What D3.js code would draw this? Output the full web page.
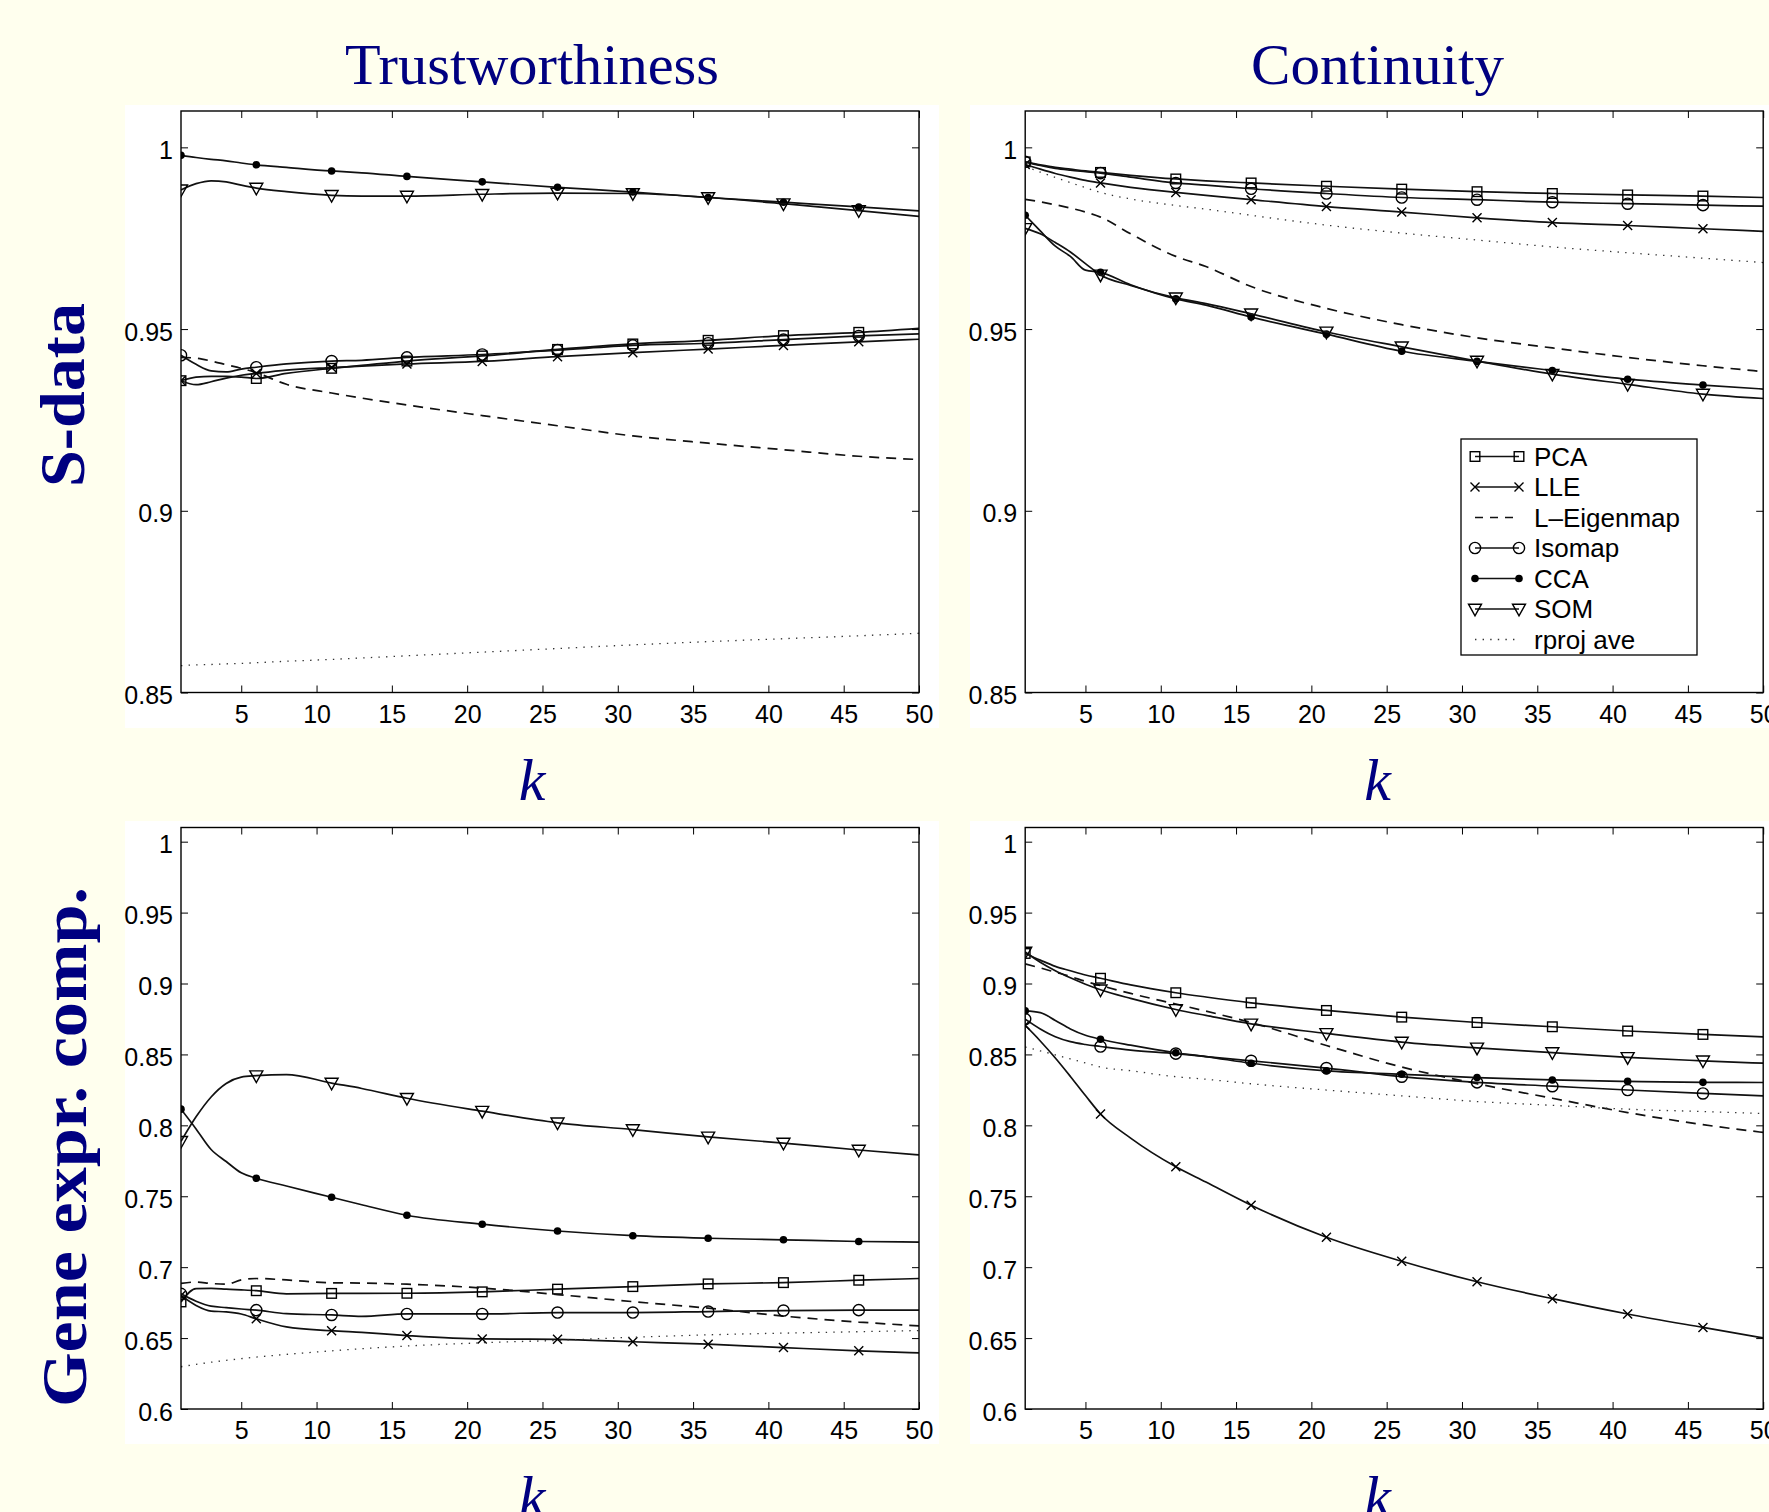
<!DOCTYPE html>
<html><head><meta charset="utf-8">
<script src="https://cdn.jsdelivr.net/npm/d3@7"></script>
<style>html,body{margin:0;padding:0;background:#FFFFEE;} svg{display:block}</style>
</head><body>
<svg id="chart" width="1769" height="1512"></svg>
<script>
// ---------------- DATA ----------------
const kGrid = [1,2,3,4,5,6,8,11,13,16,21,26,31,36,41,46,50];
const markerKs = [1,6,11,16,21,26,31,36,41,46];
const xTicks = [5,10,15,20,25,30,35,40,45,50];
const yTicksS = [0.85,0.9,0.95,1];
const yTickLabelsS = ["0.85","0.9","0.95","1"];
const yTicksG = [0.6,0.65,0.7,0.75,0.8,0.85,0.9,0.95,1];
const yTickLabelsG = ["0.6","0.65","0.7","0.75","0.8","0.85","0.9","0.95","1"];
const colTitles = ["Trustworthiness","Continuity"];
const rowTitles = ["S-data","Gene expr. comp."];
const methods = ["PCA","LLE","L\u2013Eigenmap","Isomap","CCA","SOM","rproj ave"];

// Trustworthiness, S-data
const trustS_PCA   = [.9358,.9368,.9370,.9370,.9368,.9364,.9378,.9392,.9400,.9412,.9426,.9444,.9459,.9469,.9482,.9491,.9502];
const trustS_LLE   = [.9358,.9347,.9355,.9365,.9373,.9378,.9387,.9394,.9398,.9404,.9411,.9424,.9435,.9445,.9455,.9465,.9472];
const trustS_LEig  = [.9422,.9420,.9412,.9402,.9392,.9380,.9348,.9324,.9310,.9291,.9262,.9234,.9206,.9186,.9168,.9150,.9141];
const trustS_Iso   = [.9428,.9403,.9385,.9382,.9390,.9395,.9404,.9412,.9414,.9422,.9430,.9442,.9455,.9461,.9471,.9481,.9487];
const trustS_CCA   = [.9978,.9972,.9967,.9963,.9957,.9952,.9945,.9935,.9930,.9920,.9905,.9890,.9877,.9862,.9849,.9836,.9825];
const trustS_SOM   = [.9883,.9900,.9908,.9905,.9896,.9888,.9878,.9868,.9866,.9866,.9871,.9874,.9873,.9862,.9845,.9826,.9810];
const trustS_rproj = [.8574,.8576,.8577,.8579,.8580,.8582,.8586,.8591,.8595,.8601,.8611,.8621,.8631,.8640,.8648,.8656,.8663];

// Continuity, S-data
const contS_PCA   = [.9960,.9952,.9945,.9940,.9935,.9931,.9923,.9913,.9908,.9902,.9893,.9885,.9878,.9873,.9869,.9866,.9862];
const contS_LLE   = [.9953,.9940,.9928,.9918,.9909,.9902,.9890,.9876,.9868,.9856,.9837,.9822,.9806,.9793,.9785,.9776,.9769];
const contS_LEig  = [.9857,.9850,.9842,.9833,.9822,.9808,.9762,.9700,.9672,.9617,.9557,.9512,.9476,.9448,.9422,.9399,.9383];
const contS_Iso   = [.9960,.9950,.9942,.9937,.9933,.9929,.9918,.9902,.9896,.9886,.9873,.9862,.9856,.9849,.9845,.9841,.9838];
const contS_CCA   = [.9813,.9770,.9728,.9700,.9662,.9656,.9622,.9583,.9566,.9533,.9486,.9439,.9411,.9386,.9362,.9346,.9335];
const contS_SOM   = [.9777,.9762,.9738,.9712,.9680,.9649,.9620,.9586,.9570,.9542,.9492,.9451,.9412,.9376,.9348,.9321,.9309];
const contS_rproj = [.9947,.9932,.9917,.9903,.9889,.9876,.9858,.9840,.9830,.9813,.9786,.9764,.9745,.9726,.9710,.9695,.9683];

// Trustworthiness, Gene expression compendium
const trustG_PCA   = [.6755,.6849,.6850,.6845,.6840,.6834,.6812,.6815,.6815,.6816,.6826,.6845,.6863,.6882,.6891,.6908,.6920];
const trustG_LLE   = [.6800,.6730,.6690,.6685,.6670,.6636,.6579,.6552,.6540,.6518,.6494,.6491,.6474,.6457,.6433,.6410,.6396];
const trustG_LEig  = [.6886,.6895,.6885,.6880,.6910,.6920,.6910,.6890,.6888,.6880,.6853,.6807,.6757,.6711,.6655,.6613,.6586];
const trustG_Iso   = [.6812,.6760,.6725,.6715,.6705,.6697,.6672,.6663,.6653,.6670,.6670,.6680,.6680,.6687,.6694,.6697,.6697];
const trustG_CCA   = [.8114,.7975,.7830,.7745,.7665,.7627,.7572,.7493,.7440,.7366,.7303,.7255,.7222,.7204,.7193,.7181,.7177];
const trustG_SOM   = [.7887,.8060,.8200,.8295,.8340,.8350,.8358,.8298,.8260,.8191,.8100,.8018,.7970,.7918,.7875,.7826,.7792];
const trustG_rproj = [.6298,.6315,.6330,.6343,.6355,.6366,.6385,.6410,.6425,.6444,.6467,.6484,.6506,.6523,.6535,.6545,.6553];

// Continuity, Gene expression compendium
const contG_PCA   = [.9212,.9165,.9121,.9090,.9060,.9037,.8990,.8935,.8905,.8864,.8810,.8763,.8725,.8695,.8665,.8641,.8624];
const contG_LLE   = [.8705,.8595,.8475,.8345,.8210,.8080,.7910,.7708,.7600,.7437,.7211,.7042,.6897,.6778,.6670,.6575,.6501];
const contG_LEig  = [.9138,.9110,.9080,.9050,.9015,.8986,.8930,.8855,.8805,.8725,.8563,.8411,.8293,.8191,.8090,.8005,.7950];
const contG_Iso   = [.8749,.8680,.8625,.8590,.8570,.8556,.8530,.8506,.8485,.8455,.8404,.8343,.8303,.8276,.8249,.8225,.8208];
const contG_CCA   = [.8807,.8795,.8740,.8680,.8635,.8607,.8565,.8512,.8485,.8438,.8384,.8360,.8337,.8320,.8310,.8303,.8302];
const contG_SOM   = [.9222,.9150,.9090,.9040,.8995,.8956,.8895,.8817,.8775,.8715,.8648,.8587,.8546,.8513,.8479,.8455,.8438];
const contG_rproj = [.8553,.8525,.8497,.8468,.8440,.8411,.8385,.8343,.8325,.8293,.8249,.8208,.8168,.8141,.8114,.8097,.8083];

// ---------------- STYLE / LAYOUT ----------------
const NAVY = "#000080";
const styles = [
  {marker:"square", dash:null},
  {marker:"x", dash:null},
  {marker:null, dash:"10,7"},
  {marker:"circle", dash:null},
  {marker:"dot", dash:null},
  {marker:"tri", dash:null},
  {marker:null, dash:"1.4,6.2", dotted:true}
];
const PW = 738, PH = 581.5;
const colX = [181, 1025.2];
const rowY = [111, 827.5];
const panels = [
  {c:0, r:0, dom:[0.85,1.01], ticks:yTicksS, labels:yTickLabelsS,
   series:[trustS_PCA,trustS_LLE,trustS_LEig,trustS_Iso,trustS_CCA,trustS_SOM,trustS_rproj]},
  {c:1, r:0, dom:[0.85,1.01], ticks:yTicksS, labels:yTickLabelsS, legend:true,
   series:[contS_PCA,contS_LLE,contS_LEig,contS_Iso,contS_CCA,contS_SOM,contS_rproj]},
  {c:0, r:1, dom:[0.6,1.01], ticks:yTicksG, labels:yTickLabelsG,
   series:[trustG_PCA,trustG_LLE,trustG_LEig,trustG_Iso,trustG_CCA,trustG_SOM,trustG_rproj]},
  {c:1, r:1, dom:[0.6,1.01], ticks:yTicksG, labels:yTickLabelsG,
   series:[contG_PCA,contG_LLE,contG_LEig,contG_Iso,contG_CCA,contG_SOM,contG_rproj]}
];
const whiteX = [[125,814],[970,799]];
const whiteY = [[105,623],[821,623]];

const svg = d3.select("#chart");
svg.append("rect").attr("width",1769).attr("height",1512).attr("fill","#FFFFEE");

function drawMarker(g, type, cx, cy) {
  const s = g.append("g").attr("transform",`translate(${cx},${cy})`);
  if (type === "square") {
    s.append("rect").attr("x",-4.8).attr("y",-4.8).attr("width",9.6).attr("height",9.6)
      .attr("fill","none").attr("stroke","#000").attr("stroke-width",1.4);
  } else if (type === "circle") {
    s.append("circle").attr("r",5.6).attr("fill","none").attr("stroke","#000").attr("stroke-width",1.4);
  } else if (type === "dot") {
    s.append("circle").attr("r",3.8).attr("fill","#000");
  } else if (type === "x") {
    s.append("path").attr("d","M-4.5,-4.5L4.5,4.5M-4.5,4.5L4.5,-4.5")
      .attr("stroke","#000").attr("stroke-width",1.4);
  } else if (type === "tri") {
    s.append("path").attr("d","M-6.5,-4.8L6.5,-4.8L0,6.8Z")
      .attr("fill","none").attr("stroke","#000").attr("stroke-width",1.4);
  }
}

const font = "'Liberation Sans', Arial, Helvetica, sans-serif";

panels.forEach((p, pi) => {
  const x0 = colX[p.c], y0 = rowY[p.r];
  const g = svg.append("g");
  g.append("rect").attr("x",whiteX[p.c][0]).attr("y",whiteY[p.r][0])
    .attr("width",whiteX[p.c][1]).attr("height",whiteY[p.r][1]).attr("fill","#fff");
  const x = d3.scaleLinear().domain([1,50]).range([x0, x0+PW]);
  const y = d3.scaleLinear().domain(p.dom).range([y0+PH, y0]);
  const clipId = "clip"+pi;
  g.append("clipPath").attr("id",clipId).append("rect")
    .attr("x",x0).attr("y",y0).attr("width",PW).attr("height",PH);
  const plot = g.append("g").attr("clip-path",`url(#${clipId})`);
  const line = d3.line().x(d=>x(d[0])).y(d=>y(d[1])).curve(d3.curveMonotoneX);
  p.series.forEach((vals, i) => {
    const st = styles[i];
    const data = kGrid.map((k,j)=>[k, vals[j]]);
    const path = plot.append("path").datum(data).attr("d",line)
      .attr("fill","none").attr("stroke", st.dotted ? "#333" : "#111")
      .attr("stroke-width", st.dotted ? 1.3 : 1.7);
    if (st.dash) path.attr("stroke-dasharray", st.dash);
    if (st.marker) {
      markerKs.forEach(k => {
        const j = kGrid.indexOf(k);
        drawMarker(plot, st.marker, x(k), y(vals[j]));
      });
    }
  });
  // axes
  const styleText = sel => sel.attr("font-family",font).attr("font-size",25).attr("fill","#000");
  g.append("g").attr("transform",`translate(0,${y0+PH})`)
    .call(d3.axisBottom(x).tickValues(xTicks).tickSizeInner(-7).tickSizeOuter(0).tickFormat(d=>String(d)))
    .call(s=>{ s.select(".domain").remove(); s.selectAll("text").attr("y",30.4).attr("dy",null).call(styleText); });
  g.append("g").attr("transform",`translate(0,${y0})`)
    .call(d3.axisTop(x).tickValues(xTicks).tickSizeInner(-7).tickSizeOuter(0).tickFormat(""))
    .call(s=>s.select(".domain").remove());
  g.append("g").attr("transform",`translate(${x0},0)`)
    .call(d3.axisLeft(y).tickValues(p.ticks).tickSizeInner(-7).tickSizeOuter(0).tickFormat((d,i)=>p.labels[i]))
    .call(s=>{ s.select(".domain").remove(); s.selectAll("text").attr("x",-8).attr("y",11).attr("dy",null).call(styleText); });
  g.append("g").attr("transform",`translate(${x0+PW},0)`)
    .call(d3.axisRight(y).tickValues(p.ticks).tickSizeInner(-7).tickSizeOuter(0).tickFormat(""))
    .call(s=>s.select(".domain").remove());
  g.append("rect").attr("x",x0).attr("y",y0).attr("width",PW).attr("height",PH)
    .attr("fill","none").attr("stroke","#000").attr("stroke-width",1.4);

  if (p.legend) {
    const lg = g.append("g");
    lg.append("rect").attr("x",1461).attr("y",439).attr("width",236).attr("height",216)
      .attr("fill","#fff").attr("stroke","#000").attr("stroke-width",1.3);
    methods.forEach((m,i) => {
      const cy = 456.5 + i*30.5;
      const st = styles[i];
      const ln = lg.append("line").attr("x1",1475).attr("x2",1519).attr("y1",cy).attr("y2",cy)
        .attr("stroke", st.dotted ? "#333" : "#111").attr("stroke-width", st.dotted ? 1.3 : 1.7);
      if (st.dash) ln.attr("stroke-dasharray", st.dotted ? "1.4,6.2" : "8,7");
      if (st.marker) { drawMarker(lg, st.marker, 1475, cy); drawMarker(lg, st.marker, 1519, cy); }
      lg.append("text").attr("x",1534).attr("y",cy+9).attr("font-family",font)
        .attr("font-size",26).attr("fill","#000").text(m);
    });
  }
});

// column titles
const titleX = [532, 1377.5];
const titleLen = [374, 253];
colTitles.forEach((t,i) => {
  svg.append("text").attr("x",titleX[i]).attr("y",84).attr("text-anchor","middle")
    .attr("font-family","'Liberation Serif', 'Times New Roman', serif").attr("font-size",58)
    .attr("fill",NAVY).attr("textLength",titleLen[i]).attr("lengthAdjust","spacingAndGlyphs").text(t);
});
// x-axis labels
[800, 1517].forEach(yy => titleX.forEach(xx => {
  svg.append("text").attr("x",xx).attr("y",yy).attr("text-anchor","middle")
    .attr("font-family","'Liberation Serif', 'Times New Roman', serif").attr("font-style","italic")
    .attr("font-size",60).attr("fill",NAVY).text("k");
}));
// row titles
const rowCY = [395, 1147], rowBX = [84, 86], rowLen = [184, 520];
rowTitles.forEach((t,i) => {
  svg.append("text").attr("transform",`translate(${rowBX[i]},${rowCY[i]}) rotate(-90)`)
    .attr("text-anchor","middle").attr("font-family","'Liberation Serif', 'Times New Roman', serif")
    .attr("font-weight","bold").attr("font-size",64).attr("fill",NAVY)
    .attr("textLength",rowLen[i]).attr("lengthAdjust","spacingAndGlyphs").text(t);
});
</script>
</body></html>
